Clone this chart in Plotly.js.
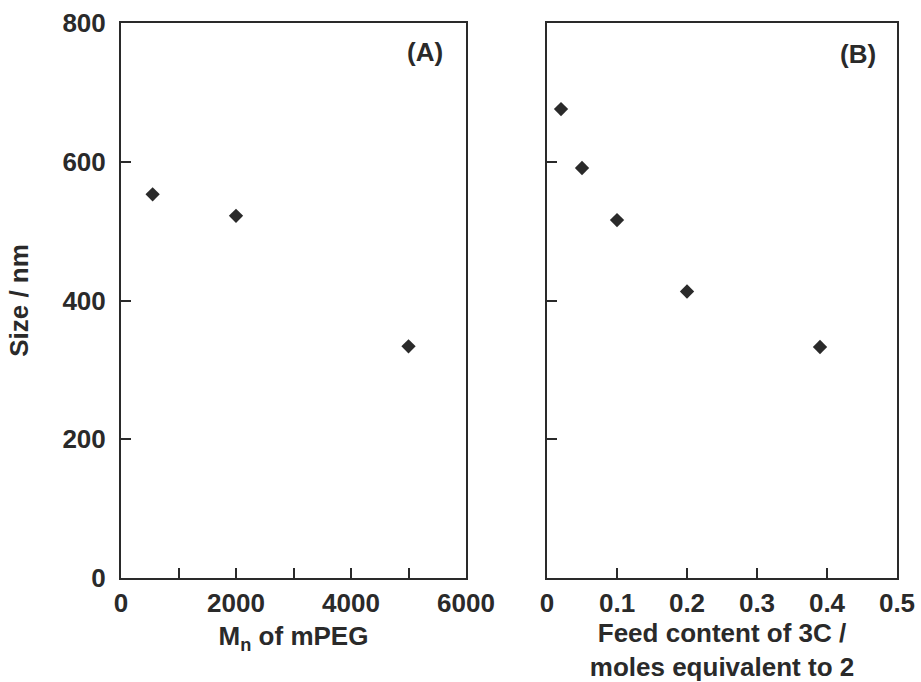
<!DOCTYPE html>
<html>
<head>
<meta charset="utf-8">
<script src="https://cdn.plot.ly/plotly-3.0.1.min.js"></script>
<style>html,body{margin:0;padding:0;background:#fff;}#chart{width:921px;height:682px;}</style>
</head>
<body>
<div id="chart"></div>
<script>
// Panel A: size vs Mn of mPEG
const mnMPEG = [550, 2000, 5000];
const sizeA = [553, 522, 334];
// Panel B: size vs feed content of 3C
const feed3C = [0.02, 0.05, 0.1, 0.2, 0.39];
const sizeB = [676, 591, 516, 413, 333];

const xTickValsA = [0, 2000, 4000, 6000];
const xTickTextA = ['0', '2000', '4000', '6000'];
const xTickValsB = [0, 0.1, 0.2, 0.3, 0.4, 0.5];
const xTickTextB = ['0', '0.1', '0.2', '0.3', '0.4', '0.5'];
const yTickVals = [0, 200, 400, 600, 800];

const ink = '#2a2a2a';
const fnt = {family: 'Arial, "Liberation Sans", sans-serif', size: 26, color: ink, weight: 700};

const marker = {symbol: 'diamond', size: 11, color: ink, line: {width: 0}};

const traces = [
  {x: mnMPEG, y: sizeA, type: 'scatter', mode: 'markers', marker: marker, xaxis: 'x', yaxis: 'y', hoverinfo: 'none'},
  {x: feed3C, y: sizeB, type: 'scatter', mode: 'markers', marker: marker, xaxis: 'x2', yaxis: 'y2', hoverinfo: 'none'}
];

const axBase = {
  showline: true, mirror: true, linecolor: ink, linewidth: 2,
  ticks: 'inside', ticklen: 10, tickwidth: 2, tickcolor: ink,
  showgrid: false, zeroline: false, tickfont: fnt, fixedrange: true
};

const layout = {
  width: 921, height: 682,
  margin: {l: 121, r: 24, t: 23, b: 104},
  paper_bgcolor: '#fff', plot_bgcolor: '#fff',
  showlegend: false,
  font: fnt,
  xaxis: Object.assign({}, axBase, {
    domain: [0, 0.4446], range: [0, 6000],
    tickmode: 'array', tickvals: xTickValsA, ticktext: xTickTextA,
    minor: {tickvals: [1000, 3000, 5000], ticks: 'inside', ticklen: 10, tickwidth: 2, tickcolor: ink, showgrid: false},
    ticklabelstandoff: 1,
    title: {text: 'M<sub>n</sub> of mPEG', font: fnt, standoff: 10}
  }),
  yaxis: Object.assign({}, axBase, {
    domain: [0, 1], range: [0, 800],
    tickmode: 'array', tickvals: yTickVals,
    ticklabelstandoff: 8,
    title: {text: 'Size / nm', font: fnt, standoff: 26}
  }),
  xaxis2: Object.assign({}, axBase, {
    domain: [0.549, 1], range: [0, 0.5], anchor: 'y2',
    tickmode: 'array', tickvals: xTickValsB, ticktext: xTickTextB,
    ticklabelstandoff: 1,
    title: {text: 'Feed content of 3C /<br>moles equivalent to 2', font: fnt, standoff: 10}
  }),
  yaxis2: Object.assign({}, axBase, {
    domain: [0, 1], range: [0, 800], anchor: 'x2',
    tickmode: 'array', tickvals: yTickVals, showticklabels: false
  }),
  annotations: [
    {text: '(A)', xref: 'x domain', yref: 'y domain', x: 0.939, y: 0.948, xanchor: 'right', yanchor: 'middle', showarrow: false, font: fnt},
    {text: '(B)', xref: 'x2 domain', yref: 'y2 domain', x: 0.946, y: 0.944, xanchor: 'right', yanchor: 'middle', showarrow: false, font: fnt}
  ]
};

Plotly.newPlot('chart', traces, layout, {staticPlot: true, displayModeBar: false});
</script>
</body>
</html>
